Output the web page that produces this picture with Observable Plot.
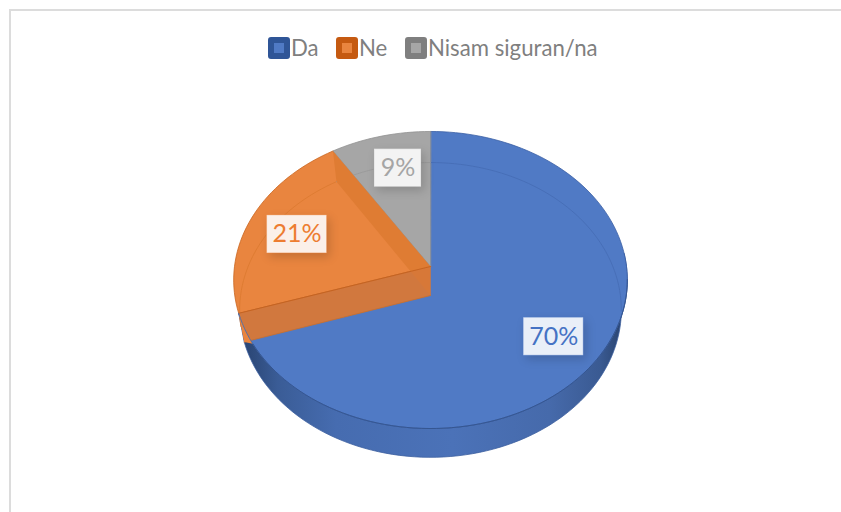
<!DOCTYPE html>
<html><head><meta charset="utf-8">
<script src="https://cdn.jsdelivr.net/npm/d3@7"></script>
<script src="https://cdn.jsdelivr.net/npm/@observablehq/plot@0.6"></script>
<style>
html,body{margin:0;padding:0;background:#fff;width:841px;height:512px;overflow:hidden}
#frame{position:absolute;left:9px;top:9px;right:-5px;bottom:-5px;border-left:2px solid #dcdcdc;border-top:2px solid #dcdcdc}
#legend{height:70px;position:relative;font:22.2px Lato,sans-serif;color:#7f7f7f}
.item{position:absolute;top:36px;height:22px;display:flex;align-items:center;white-space:nowrap}
.sw{width:10px;height:10px;border-style:solid;border-width:6px;border-radius:3px;margin-right:1px;position:relative;top:1px}
#chart{position:absolute;left:0;top:70px}
</style></head><body>
<div id="frame"></div>
<div id="legend"></div>
<div id="chart"></div>
<script>
const categories = ["Da", "Ne", "Nisam siguran/na"];
const values = [70, 21, 9];
const topColors = ["#507ac5", "#e9853f", "#a6a6a6"];
const edgeColors = ["#3b60a4", "#c9641e", "#929292"];
const inkColors = ["#4472c4", "#ed7d31", "#a5a5a5"];
const boxColors = ["#e9eff8", "#fbf0e9", "#f3f3f3"];
const swatchEdges = ["#2f5597", "#c55a11", "#7f7f7f"];
const swatchLeft = [268, 336, 405];

// legend
const legend = d3.select("#legend");
categories.forEach((c, i) => {
  const it = legend.append("div").attr("class", "item").style("left", swatchLeft[i] + "px");
  it.append("div").attr("class", "sw").style("background", topColors[i]).style("border-color", swatchEdges[i]);
  it.append("span").text(c);
});

// pie geometry derived from the values
const total = d3.sum(values);
const cum = d3.cumsum(values);
const deg = v => v / total * 360;
const start = i => i ? deg(cum[i - 1]) : 0;
const end = i => deg(cum[i]);

// perspective view of the top and of the base disc, in units of the top radius
const rad = a => a * Math.PI / 180;
const unitX = 196, unitY = 147.3;
const topDisc = {k: 0.0909, sx: 1, sy: 1, shift: 0};
const baseDisc = {k: 0.0979, sx: 0.969, sy: 0.991, shift: 29 / unitY};
const proj = (a, r, d) => {
  const c = r * Math.sin(rad(a)), s = -r * Math.cos(rad(a));
  const w = 1 - d.k * s;
  return {x: d.sx * c / w, y: d.sy * s / w + d.shift};
};
const arc = (a0, a1, d) => {
  const n = Math.max(2, Math.ceil(Math.abs(a1 - a0) / 2));
  return d3.range(n + 1).map(i => proj(a0 + (a1 - a0) * i / n, 1, d));
};
const apex = d => proj(0, 0, d);
const sector = (a0, a1, d) => [apex(d), ...arc(a0, a1, d)];

const poly = (pts, fill, stroke, extra = {}) => Plot.line(pts, {x: "x", y: "y", fill, stroke: stroke || "none",
  strokeWidth: 0.8, curve: "linear-closed", ...extra});
const path = (pts, stroke, extra = {}) => Plot.line(pts, {x: "x", y: "y", stroke, strokeWidth: 0.9, ...extra});

const cut = end(0);      // blue / orange boundary
const back = end(1);     // orange / grey boundary
const sliverEnd = cut - 12;

const gradient = () => {
  const s = d3.create("svg:defs");
  const g = s.append("linearGradient").attr("id", "wall");
  [[0, "#27416d"], [0.1, "#3a5c96"], [0.25, "#466cb0"], [0.55, "#4b72b8"], [0.8, "#466aab"], [0.93, "#3a5a92"], [1, "#263f68"]]
    .forEach(([o, c]) => g.append("stop").attr("offset", o).attr("stop-color", c));
  return s.node();
};

// labels
const labelRadius = 0.74;
const labelNudge = [[1, 3.5], [0, 4], [5.5, 0]];
const boxWidths = [60, 60, 47];
const boxH = 38;
const labels = values.map((v, i) => {
  const p = proj((start(i) + end(i)) / 2, labelRadius, topDisc);
  return {x: p.x + labelNudge[i][0] / unitX, y: p.y + labelNudge[i][1] / unitY, text: v + "%", i};
});

const marks = [
  gradient,
  // outer wall
  poly([...arc(85, cut, topDisc), ...arc(cut, 85, baseDisc)], "url(#wall)", "#3c5f9f"),
  // top faces
  ...values.map((v, i) => poly(sector(start(i), end(i), topDisc), topColors[i], edgeColors[i])),
  // base circle seen through the faces
  path(arc(0, 96, baseDisc), "#466db6"),
  path(arc(cut + 6, back, baseDisc), "#dd7a31"),
  path(arc(back, 360, baseDisc), "#9a9a9a"),
  // rim of the top face against the wall
  path(arc(95, sliverEnd, topDisc), "#34558f"),
  // orange radial faces
  poly([apex(topDisc), proj(back, 1, topDisc), proj(back, 1, baseDisc), apex(baseDisc)], "#df7c33", null),
  poly([apex(topDisc), proj(cut, 1, topDisc), proj(cut, 1, baseDisc), apex(baseDisc)], "#d67838", null, {fillOpacity: 0.96}),
  path([apex(topDisc), proj(cut, 1, topDisc)], "#c4621f"),
  path([apex(baseDisc), proj(cut, 1, baseDisc)], "#c9702f"),
  // orange sliver at the left edge
  poly([...arc(cut, sliverEnd, topDisc), proj(cut, 1, baseDisc)], "#e9853f", null),
  path(arc(cut, sliverEnd, topDisc), "#4a6fb0"),
  // data labels
  ...labels.map(l => Plot.rect([l], {
    x1: d => d.x - boxWidths[l.i] / 2 / unitX, x2: d => d.x + boxWidths[l.i] / 2 / unitX,
    y1: d => d.y - boxH / 2 / unitY, y2: d => d.y + boxH / 2 / unitY,
    fill: boxColors[l.i], stroke: inkColors[l.i], strokeOpacity: 0.3, strokeWidth: 1,
    imageFilter: "drop-shadow(3px 4px 5px rgba(0,0,0,0.16))"
  })),
  ...labels.map(l => Plot.text([l], {x: "x", y: "y", text: "text", fill: inkColors[l.i],
    fontSize: 25, fontFamily: "Lato, sans-serif", textAnchor: "middle", lineAnchor: "middle"}))
];

const chart = Plot.plot({
  width: 841, height: 442,
  marginTop: 0, marginRight: 0, marginBottom: 0, marginLeft: 0,
  style: {background: "transparent"},
  x: {axis: null, domain: [-1, 1], range: [430 - unitX, 430 + unitX]},
  y: {axis: null, domain: [-1, 1], range: [196 - unitY, 196 + unitY]},
  marks
});
chart.style.display = "block";
document.getElementById("chart").append(chart);
</script>
</body></html>
